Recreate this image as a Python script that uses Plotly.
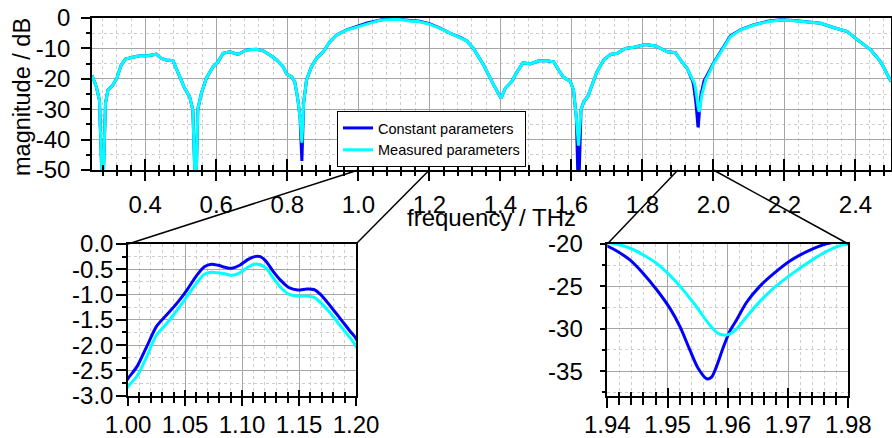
import plotly.graph_objects as go

W, H = 892, 438

# ---------------- data ----------------
freq = [
    0.250, 0.262, 0.271, 0.280, 0.288, 0.295, 0.309, 0.320, 0.332, 0.344,
    0.365, 0.384, 0.407, 0.431, 0.445, 0.459, 0.478, 0.497, 0.511, 0.525,
    0.534, 0.542, 0.548, 0.558, 0.572, 0.591, 0.605, 0.619, 0.638, 0.661,
    0.685, 0.713, 0.732, 0.751, 0.770, 0.788, 0.798, 0.812, 0.821, 0.830,
    0.836, 0.841, 0.846, 0.854, 0.868, 0.882, 0.901, 0.920, 0.939, 0.967,
    0.986,
    1.000, 1.008, 1.016, 1.025, 1.034, 1.043, 1.052, 1.060, 1.067, 1.073,
    1.079, 1.085, 1.091, 1.098, 1.105, 1.111, 1.116, 1.121, 1.127, 1.134,
    1.141, 1.149, 1.157, 1.163, 1.169, 1.178, 1.187, 1.195, 1.200,
    1.230, 1.258, 1.287, 1.305, 1.324, 1.353, 1.381, 1.402, 1.414, 1.432,
    1.447, 1.464, 1.484, 1.508, 1.531, 1.550, 1.564, 1.578, 1.597, 1.606,
    1.614, 1.620, 1.627, 1.635, 1.646, 1.658, 1.672, 1.691, 1.710, 1.729,
    1.752, 1.776, 1.809, 1.837, 1.870, 1.893, 1.907, 1.926,
    1.9400, 1.9415, 1.9438, 1.9460, 1.9482, 1.9504, 1.9521, 1.9537, 1.9551,
    1.9565, 1.9573, 1.9581, 1.9593, 1.9604, 1.9615, 1.9631, 1.9653, 1.9676,
    1.9703, 1.9731, 1.9758, 1.9786, 1.9800,
    2.001, 2.025, 2.048, 2.077, 2.114, 2.152, 2.189, 2.227, 2.265, 2.302,
    2.340, 2.377, 2.406, 2.443, 2.471, 2.500,
]

mag_const = [
    -18.8, -22.6, -27.0, -60.0, -28.0, -23.7, -22.0, -19.8, -15.5, -13.5,
    -12.9, -12.4, -12.4, -11.9, -13.3, -13.8, -14.0, -19.3, -23.1, -25.9,
    -30.3, -60.0, -30.0, -24.8, -19.8, -16.0, -14.4, -11.6, -11.1, -12.0,
    -10.5, -10.3, -10.8, -12.2, -13.8, -16.0, -18.4, -19.3, -21.0, -27.0,
    -33.0, -47.0, -28.0, -20.4, -16.0, -13.3, -11.1, -7.8, -5.6, -3.9,
    -3.1,
    -2.66, -2.42, -2.05, -1.63, -1.40, -1.17, -0.90, -0.63, -0.45, -0.40,
    -0.42, -0.46, -0.48, -0.42, -0.31, -0.25, -0.25, -0.34, -0.53, -0.72,
    -0.86, -0.91, -0.89, -0.90, -1.00, -1.24, -1.50, -1.73, -1.87,
    -3.3, -5.0, -6.4, -7.5, -10.0, -15.5, -22.0, -26.4, -23.1, -20.9,
    -17.7, -14.7, -15.1, -14.1, -14.1, -14.4, -17.1, -19.5, -20.9, -23.7,
    -33.0, -60.0, -30.3, -27.5, -25.9, -22.0, -17.7, -13.8, -12.0, -11.6,
    -10.0, -9.6, -8.7, -9.2, -11.1, -11.4, -13.8, -16.6,
    -20.24, -20.8, -21.9, -23.5, -25.4, -27.6, -29.8, -32.5, -34.7,
    -35.9, -35.7, -34.5, -32.1, -30.2, -28.9, -26.9, -25.0, -23.5,
    -22.0, -20.9, -20.1, -19.6, -19.3,
    -14.6, -10.2, -5.9, -3.8, -2.2, -1.1, -0.6, -0.8, -1.2, -1.75,
    -3.2, -4.5, -7.2, -10.5, -14.4, -20.9,
]

mag_meas = [
    -18.8, -22.6, -27.0, -60.0, -28.0, -23.7, -22.0, -19.8, -15.5, -13.5,
    -12.9, -12.4, -12.4, -11.9, -13.3, -13.8, -14.0, -19.3, -23.1, -25.9,
    -30.3, -60.0, -30.0, -24.8, -19.8, -16.0, -14.4, -11.6, -11.1, -12.0,
    -10.5, -10.3, -10.8, -12.2, -13.8, -16.0, -18.4, -19.3, -21.0, -27.0,
    -33.0, -41.0, -28.0, -20.4, -16.0, -13.3, -11.1, -7.8, -5.6, -4.0,
    -3.3,
    -2.82, -2.61, -2.25, -1.80, -1.57, -1.31, -1.03, -0.78, -0.60, -0.56,
    -0.57, -0.59, -0.62, -0.57, -0.46, -0.40, -0.41, -0.47, -0.66, -0.86,
    -0.99, -1.03, -1.03, -1.05, -1.16, -1.38, -1.64, -1.86, -2.02,
    -3.4, -5.0, -6.4, -7.5, -10.0, -15.5, -22.0, -26.4, -23.1, -20.9,
    -17.7, -14.7, -15.1, -14.1, -14.1, -14.4, -17.1, -19.5, -20.9, -23.7,
    -33.0, -42.0, -30.3, -27.5, -25.9, -22.0, -17.7, -13.8, -12.0, -11.6,
    -10.0, -9.6, -8.7, -9.2, -11.1, -11.4, -13.8, -16.6,
    -19.8, -20.0, -20.5, -21.3, -22.3, -23.7, -25.0, -26.4, -27.7,
    -29.1, -29.8, -30.4, -30.75, -30.6, -30.0, -28.6, -26.8, -25.2,
    -23.7, -22.3, -21.1, -20.2, -20.0,
    -14.9, -10.5, -6.1, -3.9, -2.3, -1.2, -0.66, -0.88, -1.2, -1.75,
    -3.2, -4.5, -7.2, -10.5, -14.4, -20.9,
]

series_names = ["Constant parameters", "Measured parameters"]
series_colors = ["#0000ff", "#00ffff"]

top_xticks = [0.4, 0.6, 0.8, 1.0, 1.2, 1.4, 1.6, 1.8, 2.0, 2.2, 2.4]
top_xtext = ["0.4", "0.6", "0.8", "1.0", "1.2", "1.4", "1.6", "1.8", "2.0", "2.2", "2.4"]
top_yticks = [0, -10, -20, -30, -40, -50]
top_ytext = ["0", "-10", "-20", "-30", "-40", "-50"]

z1_xticks = [1.00, 1.05, 1.10, 1.15, 1.20]
z1_xtext = ["1.00", "1.05", "1.10", "1.15", "1.20"]
z1_yticks = [0.0, -0.5, -1.0, -1.5, -2.0, -2.5, -3.0]
z1_ytext = ["0.0", "-0.5", "-1.0", "-1.5", "-2.0", "-2.5", "-3.0"]

z2_xticks = [1.94, 1.95, 1.96, 1.97, 1.98]
z2_xtext = ["1.94", "1.95", "1.96", "1.97", "1.98"]
z2_yticks = [-20, -25, -30, -35]
z2_ytext = ["-20", "-25", "-30", "-35"]

top_xrange = [0.25, 2.5]
top_yrange = [-50, 0]
z1_xrange = [1.0, 1.2]
z1_yrange = [-3.0, 0.0]
z2_xrange = [1.94, 1.98]
z2_yrange = [-37.9, -20.0]

# zoom windows marked on the main axis (where connectors start)
conn1 = [1.0, 1.2]
conn2 = [1.9, 2.0]

# ---------------- layout geometry (pixels) ----------------
def px(p):
    return p / W


def py(p):
    return 1 - p / H


top_dom_x = [px(92), px(891)]
top_dom_y = [py(170), py(18)]
z1_dom_x = [px(128), px(356)]
z2_dom_x = [px(607.3), px(848.3)]
bot_dom_y = [py(395.7), py(244)]

FONT = "Liberation Sans, Arial, sans-serif"
MAJ_GRID = "#a6a6a6"
MIN_GRID = "#cdcdcd"

fig = go.Figure()

for name, col, vals in zip(series_names, series_colors, [mag_const, mag_meas]):
    fig.add_trace(go.Scatter(x=freq, y=vals, mode="lines", name=name,
                             line=dict(color=col, width=3), xaxis="x", yaxis="y"))
for name, col, vals in zip(series_names, series_colors, [mag_const, mag_meas]):
    fig.add_trace(go.Scatter(x=freq, y=vals, mode="lines", name=name, showlegend=False,
                             line=dict(color=col, width=3, shape="spline", smoothing=0.8),
                             xaxis="x2", yaxis="y2"))
for name, col, vals in zip(series_names, series_colors, [mag_const, mag_meas]):
    fig.add_trace(go.Scatter(x=freq, y=vals, mode="lines", name=name, showlegend=False,
                             line=dict(color=col, width=3, shape="spline", smoothing=0.8),
                             xaxis="x3", yaxis="y3"))
# empty traces that register the tick-only overlay axes
for xa, ya in [("x4", "y"), ("x5", "y2"), ("x6", "y3"),
               ("x", "y4"), ("x2", "y5"), ("x3", "y6")]:
    fig.add_trace(go.Scatter(x=[], y=[], xaxis=xa, yaxis=ya, showlegend=False,
                             hoverinfo="skip"))


def minor_grid(mdt, ticks, mtl):
    return dict(tickmode="linear", tick0=0, dtick=mdt, ticks=ticks,
                ticklen=mtl, tickwidth=1.5, tickcolor="black",
                showgrid=True, gridcolor=MIN_GRID, gridwidth=1, griddash="dot")


def main_axis(dom, rng, tv, tt, mdt, ticks, tl, mtl, anchor, standoff):
    return dict(domain=dom, range=rng, anchor=anchor, automargin=False,
                tickmode="array", tickvals=tv, ticktext=tt,
                ticks=ticks, ticklen=tl, tickwidth=1.5, tickcolor="black",
                showline=True, linecolor="black", linewidth=1.5, mirror=True,
                showgrid=True, gridcolor=MAJ_GRID, gridwidth=1.2, zeroline=False,
                tickfont=dict(family=FONT, size=24, color="black"),
                ticklabelstandoff=standoff,
                minor=minor_grid(mdt, ticks, mtl))


def tick_axis(over, rng, tv, mdt, ticks, tl, mtl, anchor):
    return dict(overlaying=over, range=rng, anchor=anchor, automargin=False,
                tickmode="array", tickvals=tv, showticklabels=False,
                ticks=ticks, ticklen=tl, tickwidth=1.5, tickcolor="black",
                showline=False, showgrid=False, zeroline=False,
                minor=dict(tickmode="linear", tick0=0, dtick=mdt, ticks=ticks,
                           ticklen=mtl, tickwidth=1.5, tickcolor="black", showgrid=False))


fig.update_layout(
    template="none",
    width=W, height=H,
    margin=dict(l=0, r=0, t=0, b=0, autoexpand=False),
    paper_bgcolor="white", plot_bgcolor="white",
    font=dict(family=FONT, color="black"),
    # main axes: x with inside ticks, y without ticks (labels + grids)
    xaxis=main_axis(top_dom_x, top_xrange, top_xticks, top_xtext, 0.04, "inside", 11, 5, "y", 12),
    yaxis=main_axis(top_dom_y, top_yrange, top_yticks, top_ytext, 5, "", 0, 0, "x", 15),
    xaxis2=main_axis(z1_dom_x, z1_xrange, z1_xticks, z1_xtext, 0.01, "inside", 6, 4, "y2", 7),
    yaxis2=main_axis(bot_dom_y, z1_yrange, z1_yticks, z1_ytext, 0.25, "", 0, 0, "x2", 8),
    xaxis3=main_axis(z2_dom_x, z2_xrange, z2_xticks, z2_xtext, 0.002, "inside", 8, 4, "y3", 7),
    yaxis3=main_axis(bot_dom_y, z2_yrange, z2_yticks, z2_ytext, 2.5, "", 0, 0, "x3", 18),
    # overlay axes carrying the outside ticks
    xaxis4=tick_axis("x", top_xrange, top_xticks, 0.04, "outside", 10, 5, "y"),
    xaxis5=tick_axis("x2", z1_xrange, z1_xticks, 0.01, "outside", 9, 6, "y2"),
    xaxis6=tick_axis("x3", z2_xrange, z2_xticks, 0.002, "outside", 11, 8, "y3"),
    yaxis4=tick_axis("y", top_yrange, top_yticks, 5, "outside", 10, 5, "x"),
    yaxis5=tick_axis("y2", z1_yrange, z1_yticks, 0.25, "outside", 11, 5, "x2"),
    yaxis6=tick_axis("y3", z2_yrange, z2_yticks, 2.5, "outside", 6, 4, "x3"),
    showlegend=True,
    legend=dict(x=px(337), y=py(111), xanchor="left", yanchor="top",
                bgcolor="white", bordercolor="black", borderwidth=1,
                font=dict(family=FONT, size=14.5, color="black"),
                tracegroupgap=0, itemwidth=30),
)

# axis titles
fig.add_annotation(text="magnitude / dB", x=px(22), y=py(97), xref="paper", yref="paper",
                   showarrow=False, textangle=-90, xanchor="center", yanchor="middle",
                   font=dict(family=FONT, size=23.5, color="black"))
fig.add_annotation(text="frequency / THz", x=px(491), y=py(217), xref="paper", yref="paper",
                   showarrow=False, xanchor="center", yanchor="middle",
                   font=dict(family=FONT, size=24, color="black"))


# connector lines between the main axis and the zoom panels
def top_x_to_paper(f):
    return top_dom_x[0] + (f - top_xrange[0]) / (top_xrange[1] - top_xrange[0]) * (top_dom_x[1] - top_dom_x[0])


conns = [
    (conn1[0], z1_dom_x[0]), (conn1[1], z1_dom_x[1]),
    (conn2[0], z2_dom_x[0]), (conn2[1], z2_dom_x[1]),
]
for f, xb in conns:
    fig.add_shape(type="line", xref="paper", yref="paper",
                  x0=top_x_to_paper(f), y0=top_dom_y[0], x1=xb, y1=bot_dom_y[1],
                  line=dict(color="black", width=1.5))

fig.write_html("out.html")
